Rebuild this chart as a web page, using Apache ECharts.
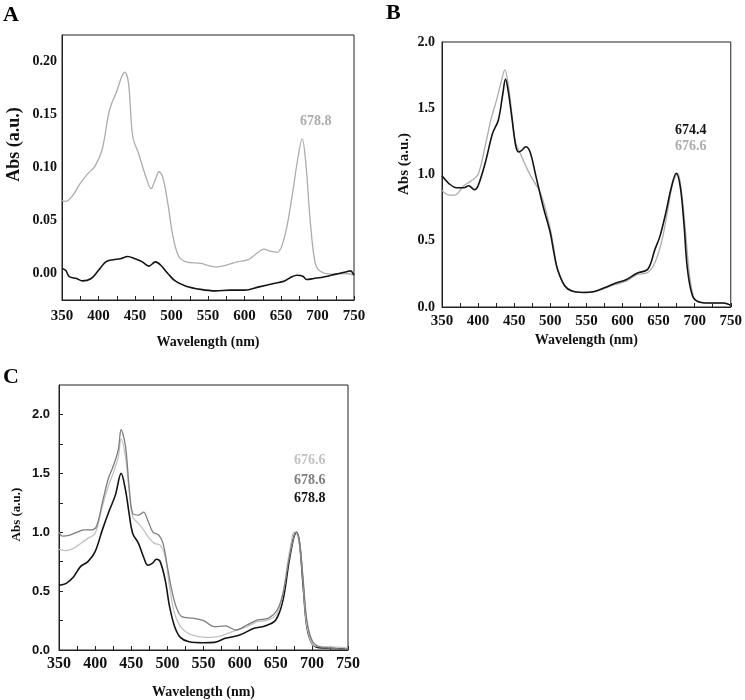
<!DOCTYPE html>
<html>
<head>
<meta charset="utf-8">
<script src="https://cdn.jsdelivr.net/npm/echarts@6/dist/echarts.min.js"></script>
<style>
  html, body { margin: 0; padding: 0; background: #fff; }
  #chart { width: 745px; height: 700px; }
</style>
</head>
<body>
<div id="chart"></div>
<script>
// panel A: two spectra (absorbance)
const aGrayWl = [350, 355, 365, 375, 385, 395, 405, 415, 425, 432, 436, 441, 447, 455, 465, 472, 477, 483, 488, 495, 502, 510, 520, 540, 560, 575, 590, 605, 615, 627, 635, 645, 655, 665, 672, 679, 684, 690, 697, 705, 720, 740, 750];
const aGrayAbs = [0.069, 0.068, 0.074, 0.085, 0.094, 0.101, 0.117, 0.154, 0.172, 0.186, 0.190, 0.180, 0.129, 0.113, 0.091, 0.080, 0.087, 0.096, 0.091, 0.066, 0.035, 0.016, 0.011, 0.0095, 0.0063, 0.0079, 0.011, 0.013, 0.018, 0.023, 0.021, 0.020, 0.035, 0.072, 0.104, 0.127, 0.104, 0.050, 0.0095, 0.0016, -0.0006, 0.0, -0.0016];
const aBlackWl = [350, 355, 360, 370, 378, 390, 400, 410, 420, 430, 440, 450, 460, 469, 478, 485, 495, 505, 520, 540, 560, 580, 600, 620, 640, 655, 665, 672, 680, 685, 695, 710, 725, 740, 745, 750];
const aBlackAbs = [0.0047, 0.003, -0.003, -0.0047, -0.007, -0.0047, 0.003, 0.011, 0.013, 0.014, 0.016, 0.014, 0.011, 0.007, 0.011, 0.008, 0.0, -0.007, -0.012, -0.015, -0.0164, -0.0157, -0.0157, -0.0126, -0.0094, -0.007, -0.003, -0.0016, -0.0025, -0.0057, -0.0047, -0.003, -0.0006, 0.0016, 0.0025, -0.0016];

// panel B
const bBlackWl = [350, 360, 370, 380, 387, 395, 400, 410, 420, 428, 434, 438, 442, 447, 452, 456, 460, 466, 472, 480, 490, 500, 505, 510, 520, 530, 545, 560, 575, 590, 605, 620, 635, 645, 652, 660, 668, 674.4, 680, 685, 690, 697, 705, 720, 740, 745, 750];
const bBlackAbs = [0.99, 0.93, 0.90, 0.90, 0.915, 0.885, 0.915, 1.09, 1.31, 1.41, 1.60, 1.72, 1.62, 1.42, 1.22, 1.17, 1.18, 1.21, 1.17, 0.99, 0.76, 0.56, 0.41, 0.285, 0.16, 0.12, 0.11, 0.115, 0.145, 0.18, 0.205, 0.255, 0.285, 0.435, 0.535, 0.71, 0.91, 1.01, 0.91, 0.64, 0.285, 0.085, 0.04, 0.03, 0.03, 0.025, 0.013];
const bGrayWl = [350, 360, 368, 380, 390, 400, 410, 418, 425, 432, 437, 442, 447, 452, 460, 470, 478, 485, 492, 500, 505, 510, 520, 530, 545, 560, 575, 590, 605, 620, 635, 645, 655, 663, 670, 676.6, 682, 687, 692, 698, 705, 720, 740, 750];
const bGrayAbs = [0.88, 0.845, 0.845, 0.915, 0.95, 1.0, 1.22, 1.42, 1.55, 1.70, 1.79, 1.67, 1.45, 1.24, 1.14, 1.02, 0.94, 0.88, 0.765, 0.59, 0.44, 0.285, 0.16, 0.12, 0.11, 0.115, 0.14, 0.17, 0.195, 0.245, 0.26, 0.335, 0.51, 0.74, 0.94, 1.01, 0.86, 0.59, 0.285, 0.085, 0.04, 0.03, 0.03, 0.013];

// panel C
const cBlackWl = [350, 360, 370, 380, 390, 400, 410, 420, 428, 436, 442, 447, 452, 460, 467, 473, 479, 485, 490, 497, 503, 510, 518, 530, 550, 565, 580, 600, 620, 635, 650, 660, 668, 675, 678.8, 683, 688, 693, 700, 710, 730, 750];
const cBlackAbs = [0.55, 0.566, 0.62, 0.71, 0.75, 0.835, 1.02, 1.19, 1.315, 1.50, 1.36, 1.16, 0.99, 0.905, 0.79, 0.72, 0.735, 0.77, 0.75, 0.594, 0.37, 0.20, 0.107, 0.07, 0.062, 0.065, 0.099, 0.127, 0.184, 0.204, 0.255, 0.424, 0.735, 0.96, 1.0, 0.905, 0.537, 0.20, 0.057, 0.02, 0.014, 0.006];
const cLightWl = [350, 360, 370, 380, 390, 400, 410, 418, 425, 432, 436, 442, 447, 452, 460, 467, 475, 482, 490, 497, 503, 510, 520, 535, 555, 570, 590, 610, 625, 640, 652, 660, 667, 674, 676.6, 682, 687, 692, 698, 705, 720, 740, 750];
const cLightAbs = [0.854, 0.843, 0.863, 0.905, 0.948, 0.99, 1.22, 1.386, 1.50, 1.64, 1.79, 1.64, 1.36, 1.13, 1.075, 1.02, 0.948, 0.905, 0.89, 0.79, 0.537, 0.31, 0.184, 0.127, 0.107, 0.113, 0.156, 0.198, 0.24, 0.255, 0.31, 0.48, 0.76, 0.99, 1.0, 0.93, 0.65, 0.255, 0.085, 0.034, 0.028, 0.023, 0.017];
const cMidWl = [350, 355, 365, 375, 385, 395, 402, 410, 418, 425, 432, 436, 442, 447, 452, 460, 467, 473, 480, 488, 494, 500, 506, 512, 520, 535, 550, 565, 580, 595, 610, 625, 640, 652, 660, 668, 675, 678.6, 683, 688, 693, 700, 710, 730, 750];
const cMidAbs = [1.0, 0.967, 0.976, 1.0, 1.02, 1.02, 1.05, 1.25, 1.45, 1.56, 1.70, 1.87, 1.73, 1.39, 1.16, 1.146, 1.17, 1.10, 1.0, 0.976, 0.905, 0.707, 0.51, 0.37, 0.283, 0.27, 0.25, 0.198, 0.204, 0.17, 0.212, 0.255, 0.27, 0.34, 0.48, 0.76, 0.96, 1.0, 0.905, 0.594, 0.255, 0.085, 0.028, 0.014, 0.006];

const xTicks = [350, 375, 400, 425, 450, 475, 500, 525, 550, 575, 600, 625, 650, 675, 700, 725, 750];
const xLabels = [350, 400, 450, 500, 550, 600, 650, 700, 750];
const aYLabels = [0, 0.05, 0.10, 0.15, 0.20];
const cYLabels = [0, 0.5, 1.0, 1.5, 2.0];
const cYTicks = [0, 0.25, 0.5, 0.75, 1.0, 1.25, 1.5, 1.75, 2.0];

const zip = (wl, abs) => wl.map((w, i) => [w, abs[i]]);

const serif = "Liberation Serif";
const black = "#141414";
const gray = "#acacac";
const lightGray = "#c2c2c2";
const midGray = "#7e7e7e";

const xAxisBase = (gridIndex, margin, gap, size) => ({
  type: "value",
  gridIndex,
  min: 350,
  max: 750,
  name: "Wavelength (nm)",
  nameLocation: "middle",
  nameGap: gap,
  nameTextStyle: { fontFamily: serif, fontWeight: "bold", fontSize: 14, color: "#111", verticalAlign: "top" },
  axisLine: { onZero: false, lineStyle: { color: "#222", width: 1 } },
  axisTick: { show: true, inside: true, length: 4, customValues: xTicks, lineStyle: { color: "#222" } },
  axisLabel: { customValues: xLabels, margin, fontFamily: serif, fontWeight: "bold", fontSize: size, color: "#111" },
  splitLine: { show: false }
});

const chart = echarts.init(document.getElementById("chart"));

const line = (name, data, color, width, xi, z) => ({
  name,
  type: "line",
  xAxisIndex: xi,
  yAxisIndex: xi,
  data,
  showSymbol: false,
  smooth: 0.35,
  lineStyle: { color, width },
  z,
  silent: true
});

const label = (text, x, y, color, size) => ({
  type: "text",
  left: x,
  top: y,
  style: { text, fill: color, font: "bold " + size + "px '" + serif + "'" }
});

chart.setOption({
  animation: false,
  backgroundColor: "#fff",
  grid: [
    { left: 62, top: 35, width: 292, height: 265, show: true, borderColor: "#222", borderWidth: 1 },
    { left: 442, top: 42, width: 293, height: 265, show: true, borderColor: "#222", borderWidth: 1 },
    { left: 59, top: 385, width: 289, height: 265, show: true, borderColor: "#222", borderWidth: 1 }
  ],
  xAxis: [
    xAxisBase(0, 9, 35, 15),
    xAxisBase(1, 7, 26, 15),
    xAxisBase(2, 6, 35, 16)
  ],
  yAxis: [
    {
      type: "value", gridIndex: 0, min: -0.025, max: 0.225,
      name: "Abs (a.u.)", nameLocation: "middle", nameGap: 39,
      nameTextStyle: { fontFamily: serif, fontWeight: "bold", fontSize: 18, color: "#111", padding: [0, 0, 0, 46] },
      axisLine: { onZero: false, lineStyle: { color: "#222" } },
      axisTick: { show: false },
      axisLabel: { customValues: aYLabels, margin: 5, fontFamily: serif, fontWeight: "bold", fontSize: 14, color: "#111", formatter: v => v.toFixed(2) },
      splitLine: { show: false }
    },
    {
      type: "value", gridIndex: 1, min: 0, max: 2, interval: 0.5,
      name: "Abs (a.u.)", nameLocation: "middle", nameGap: 30,
      nameTextStyle: { fontFamily: serif, fontWeight: "bold", fontSize: 15, color: "#111", padding: [0, 0, 0, 21] },
      axisLine: { onZero: false, lineStyle: { color: "#222" } },
      axisTick: { show: false },
      axisLabel: { margin: 7, fontFamily: serif, fontWeight: "bold", fontSize: 14, color: "#111", formatter: v => v.toFixed(1) },
      splitLine: { show: false }
    },
    {
      type: "value", gridIndex: 2, min: 0, max: 2.25,
      name: "Abs (a.u.)", nameLocation: "middle", nameGap: 36,
      nameTextStyle: { fontFamily: serif, fontWeight: "bold", fontSize: 13, color: "#111", padding: [0, 0, 0, 6] },
      axisLine: { onZero: false, lineStyle: { color: "#222" } },
      axisTick: { show: true, inside: true, length: 4, customValues: cYTicks, lineStyle: { color: "#222" } },
      axisLabel: { customValues: cYLabels, margin: 9, fontFamily: "Liberation Sans", fontWeight: "bold", fontSize: 13, color: "#111", formatter: v => v.toFixed(1) },
      splitLine: { show: false }
    }
  ],
  series: [
    line("A 678.8", zip(aGrayWl, aGrayAbs), gray, 1.3, 0, 2),
    line("A control", zip(aBlackWl, aBlackAbs), black, 1.6, 0, 3),
    line("B 676.6", zip(bGrayWl, bGrayAbs), gray, 1.3, 1, 2),
    line("B 674.4", zip(bBlackWl, bBlackAbs), black, 1.6, 1, 3),
    line("C 678.8", zip(cBlackWl, cBlackAbs), black, 1.6, 2, 2),
    line("C 676.6", zip(cLightWl, cLightAbs), lightGray, 1.3, 2, 3),
    line("C 678.6", zip(cMidWl, cMidAbs), midGray, 1.3, 2, 4)
  ],
  graphic: [
    label("A", 3, 4, "#000", 22),
    label("B", 386, 2, "#000", 22),
    label("C", 3, 366, "#000", 22),
    label("678.8", 300, 114, gray, 14),
    label("674.4", 675, 123, black, 14),
    label("676.6", 675, 139, gray, 14),
    label("676.6", 294, 453, lightGray, 14),
    label("678.6", 294, 473, midGray, 14),
    label("678.8", 294, 491, black, 14)
  ]
});
</script>
</body>
</html>
